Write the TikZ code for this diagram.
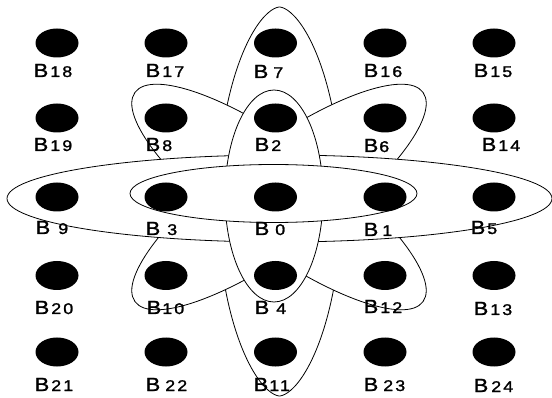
\documentclass[tikz,border=0pt]{standalone}
\usepackage{fontspec}
\setmainfont{Liberation Sans}
\newfontfamily\bfntt[FakeBold=1.3]{Liberation Sans}
\newfontfamily\dfnt[LetterSpace=12,FakeBold=1.3]{Liberation Sans}
\usepackage{graphicx}
\usetikzlibrary{shapes.geometric}
\newcommand\blab[2]{\scalebox{1.15}[1]{\bfntt\fontsize{19}{19}\selectfont B}\hspace{#1pt}\scalebox{1.15}[1]{\dfnt\fontsize{15.5}{15.5}\selectfont #2}}
\begin{document}
\begin{tikzpicture}[x=1pt,y=-1pt,
  oval/.style={draw=black, line width=0.8pt, fill=white},
  dot/.style={ellipse, fill=black, minimum width=43pt, minimum height=29pt, inner sep=0pt},
  lab/.style={anchor=base west, inner sep=0pt}]
\useasboundingbox (0,0) rectangle (552,398);
% big vertical oval (B7 - B11)
\draw[oval] plot[domain=1.5:358.5, samples=120, smooth cycle]
  ({279.5 + 62*sin(\x)*pow(abs(sin(\x)),0.2)}, {201.5 + 194.5*cos(\x)});
% diagonal petals
\draw[oval, rotate around={-36:(279,197)}] (279,197) ellipse [x radius=178, y radius=52];
\draw[oval, rotate around={36:(279,197)}] (279,197) ellipse [x radius=178, y radius=52];
% big horizontal oval (B9 - B5)
\draw[oval] (279.5,198.5) ellipse [x radius=272.5, y radius=43.5];
% inner vertical oval (B2 - B4)
\draw[oval] (274,196) ellipse [x radius=49, y radius=106];
% inner horizontal oval (B3 - B1)
\draw[oval] (273.5,193.5) ellipse [x radius=143.5, y radius=29];
% dots
\node[dot] (B18) at (57,43) {};
\node[dot] (B17) at (166,43) {};
\node[dot] (B7)  at (275.5,43) {};
\node[dot] (B16) at (385,43) {};
\node[dot] (B15) at (494,43) {};
\node[dot] (B19) at (57,118) {};
\node[dot] (B8)  at (166,118) {};
\node[dot] (B2)  at (275.5,118) {};
\node[dot] (B6)  at (385,118) {};
\node[dot] (B14) at (494,118) {};
\node[dot] (B9)  at (57,197) {};
\node[dot] (B3)  at (166,197) {};
\node[dot] (B0)  at (275.5,197) {};
\node[dot] (B1)  at (385,197) {};
\node[dot] (B5)  at (494,197) {};
\node[dot] (B20) at (57,275.5) {};
\node[dot] (B10) at (166,275.5) {};
\node[dot] (B4)  at (275.5,275.5) {};
\node[dot] (B12) at (385,275.5) {};
\node[dot] (B13) at (494,275.5) {};
\node[dot] (B21) at (57,352) {};
\node[dot] (B22) at (166,352) {};
\node[dot] (B11) at (275.5,352) {};
\node[dot] (B23) at (385,352) {};
\node[dot] (B24) at (494,352) {};
% labels
\node[lab] (L18) at (33.5,77) {\blab{2}{18}};
\node[lab] (L17) at (145.5,77) {\blab{2}{17}};
\node[lab] (L7)  at (253.5,78) {\blab{5}{7}};
\node[lab] (L16) at (363.5,77) {\blab{2}{16}};
\node[lab] (L15) at (473.5,77) {\blab{2}{15}};
\node[lab] (L19) at (33.5,151) {\blab{2}{19}};
\node[lab] (L8)  at (145.5,151) {\blab{2}{8}};
\node[lab] (L2)  at (254.5,151) {\blab{2}{2}};
\node[lab] (L6)  at (363.5,152) {\blab{1}{6}};
\node[lab] (L14) at (481.5,151) {\blab{2}{14}};
\node[lab] (L9)  at (35.5,234) {\blab{8}{9}};
\node[lab] (L3)  at (145.5,235) {\blab{7}{3}};
\node[lab] (L0)  at (254.5,235) {\blab{6}{0}};
\node[lab] (L1)  at (363.5,236) {\blab{4}{1}};
\node[lab] (L5)  at (470.5,234) {\blab{2}{5}};
\node[lab] (L20) at (34.5,314) {\blab{2}{20}};
\node[lab] (L10) at (146.5,314) {\blab{1}{10}};
\node[lab] (L4)  at (254.5,314) {\blab{7}{4}};
\node[lab] (L12) at (363.5,313) {\blab{2}{12}};
\node[lab] (L13) at (473.5,315) {\blab{2}{13}};
\node[lab] (L21) at (34.5,391) {\blab{2}{21}};
\node[lab] (L22) at (145.5,391) {\blab{5}{22}};
\node[lab] (L11) at (253.5,391) {\blab{1}{11}};
\node[lab] (L23) at (363.5,391) {\blab{5}{23}};
\node[lab] (L24) at (473.5,392) {\blab{3}{24}};
\end{tikzpicture}
\end{document}
